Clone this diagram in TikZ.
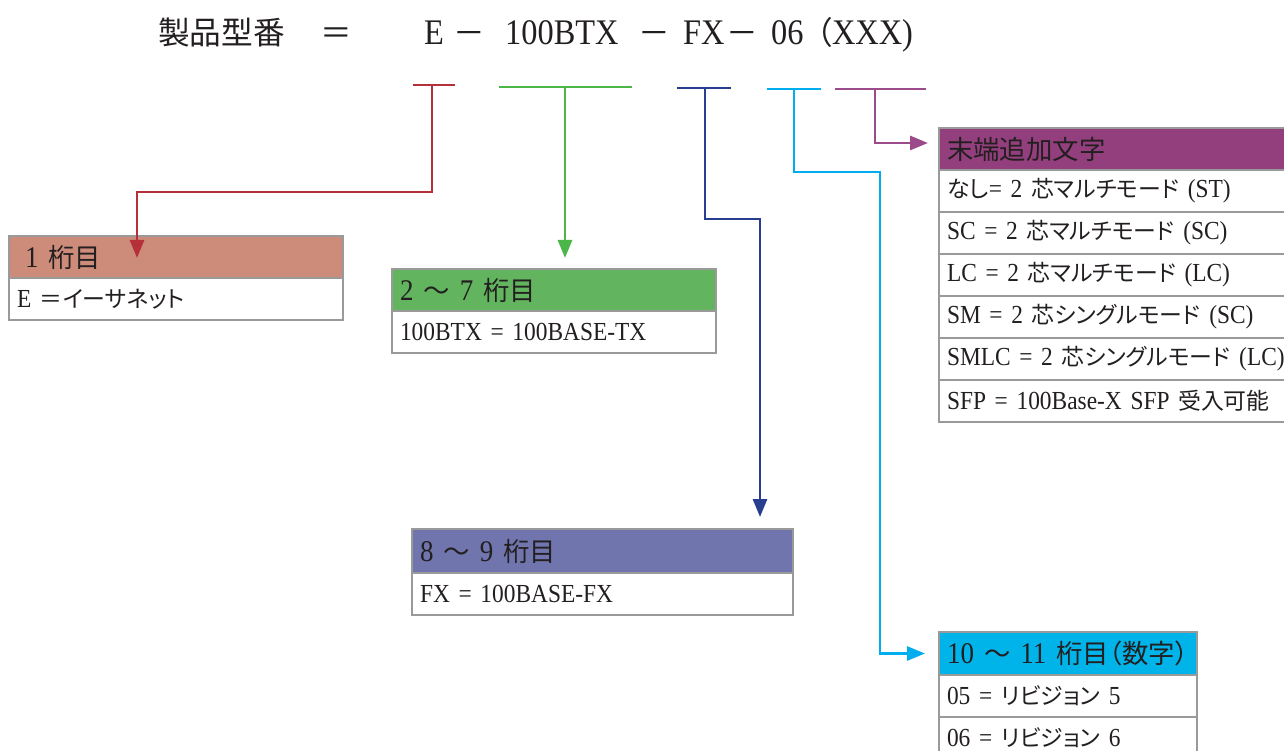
\documentclass[tikz,border=0pt]{standalone}
\usepackage{fontspec}
\setmainfont{Liberation Serif}[FakeStretch=0.9]
\newfontfamily\jpfont{Noto Sans CJK JP}[Scale=0.88,RawFeature=+palt]
\newcommand{\jp}[1]{{\jpfont #1}}
\usetikzlibrary{arrows.meta,positioning}

\definecolor{lnred}{HTML}{B5313A}
\definecolor{bgred}{HTML}{CD8B7A}
\definecolor{lngrn}{HTML}{4CB748}
\definecolor{bggrn}{HTML}{62B55E}
\definecolor{lnblu}{HTML}{283E8E}
\definecolor{bgblu}{HTML}{7075AE}
\definecolor{lncyn}{HTML}{00AEEF}
\definecolor{bgcyn}{HTML}{00B4E9}
\definecolor{lnpur}{HTML}{9B4A8A}
\definecolor{bgpur}{HTML}{943F7D}
\definecolor{boxln}{HTML}{9A9A9A}
\definecolor{ink}{HTML}{231F20}

\begin{document}
\begin{tikzpicture}[
    x=1pt, y=-1pt,
    ttl/.style={anchor=base west, inner sep=0, text=ink, font=\fontsize{36}{40}\selectfont},
    cell/.style={draw=boxln, line width=1.5pt, outer sep=0, inner xsep=8pt, inner ysep=0,
                 align=left, text=ink, minimum height=42pt},
    hdr/.style={cell, anchor=north west, font=\fontsize{30}{32}\selectfont},
    row/.style={cell, fill=white, font=\fontsize{26}{28}\selectfont},
    link/.style={line width=2.8pt},
    tip/.style={-{Triangle[length=18pt,width=14pt]}}
]
\useasboundingbox (0,0) rectangle (1284,751);
\clip (0,0) rectangle (1284,751);
% Title line
\node[ttl] (tname) at (158,45) {\jp{製品型番}};
\node[ttl] (teq)   at (320,45) {\jp{＝}};
\node[ttl] (tE)    at (424,45) {E};
\node[ttl] (td1)   at (453,45) {\jp{－}};
\node[ttl] (tBTX)  at (505,45) {100BTX};
\node[ttl] (td2)   at (638,45) {\jp{－}};
\node[ttl] (tFX)   at (683,45) {FX};
\node[ttl] (td3)   at (726,45) {\jp{－}};
\node[ttl] (t06)   at (771,45) {06};
\node[ttl] (tXXX)  at (816,45) {\jp{（}XXX)};
% Boxes
\node[hdr, fill=bgred, text width=318pt] (h1) at (9,236) {\hspace{8pt}1 \jp{桁目}};
\node[row, text width=318pt, below=0pt of h1] (r1) {E \jp{＝イーサネット}};
\node[hdr, fill=bggrn, text width=308pt] (h2) at (392,269) {2 \jp{～} 7 \jp{桁目}};
\node[row, text width=308pt, below=0pt of h2] (r2) {100BTX = 100BASE-TX};
\node[hdr, fill=bgblu, text width=365pt, minimum height=44pt] (h3) at (412,529) {8 \jp{～} 9 \jp{桁目}};
\node[row, text width=365pt, below=0pt of h3] (r3) {FX = 100BASE-FX};
\node[hdr, fill=bgcyn, text width=242pt, minimum height=43pt] (h4) at (939,632) {10 \jp{～} 11 \jp{桁目（数字）}};
\node[row, text width=242pt, below=0pt of h4] (r4a) {05 = \jp{リビジョン} 5};
\node[row, text width=242pt, below=0pt of r4a] (r4b) {06 = \jp{リビジョン} 6};
\node[hdr, fill=bgpur, text width=344pt] (h5) at (939,128) {\jp{末端追加文字}};
\node[row, text width=344pt, below=0pt of h5] (p1) {\jp{なし}= 2 \jp{芯マルチモード} (ST)};
\node[row, text width=344pt, below=0pt of p1] (p2) {SC = 2 \jp{芯マルチモード} (SC)};
\node[row, text width=344pt, below=0pt of p2] (p3) {LC = 2 \jp{芯マルチモード} (LC)};
\node[row, text width=344pt, below=0pt of p3] (p4) {SM = 2 \jp{芯シングルモード} (SC)};
\node[row, text width=344pt, below=0pt of p4] (p5) {SMLC = 2 \jp{芯シングルモード} (LC)};
\node[row, text width=344pt, below=0pt of p5] (p6) {SFP = 100Base-X SFP \jp{受入可能}};
% Brackets under the title
\coordinate (bEl) at (413,85);  \coordinate (bEr) at (455,85);  \coordinate (sE) at (432,85);
\coordinate (bBl) at (499,87);  \coordinate (bBr) at (632,87);  \coordinate (sB) at (565,87);
\coordinate (bFl) at (677,88);  \coordinate (bFr) at (731,88);  \coordinate (sF) at (705,88);
\coordinate (b6l) at (767,89);  \coordinate (b6r) at (821,89);  \coordinate (s6) at (794,89);
\coordinate (bXl) at (835,89);  \coordinate (bXr) at (926,89);  \coordinate (sX) at (875,89);
\draw[link, lnred] (bEl) -- (bEr);
\draw[link, lngrn] (bBl) -- (bBr);
\draw[link, lnblu] (bFl) -- (bFr);
\draw[link, lncyn] (b6l) -- (b6r);
\draw[link, lnpur] (bXl) -- (bXr);
% Connectors
\coordinate (kE) at (137,192);
\coordinate (eE) at (137,258);
\draw[link, lnred, tip] (sE) |- (kE) -- (eE);
\coordinate (eB) at (565,258);
\draw[link, lngrn, tip] (sB) -- (eB);
\coordinate (kF) at (760,219);
\coordinate (eF) at (760,517);
\draw[link, lnblu, tip] (sF) |- (kF) -- (eF);
\coordinate (k6) at (880,172);
\draw[link, lncyn, tip] (s6) |- (k6) |- ([xshift=-14pt]h4.west);
\coordinate (eX) at (928,143);
\draw[link, lnpur, tip] (sX) |- (eX);
\end{tikzpicture}
\end{document}
